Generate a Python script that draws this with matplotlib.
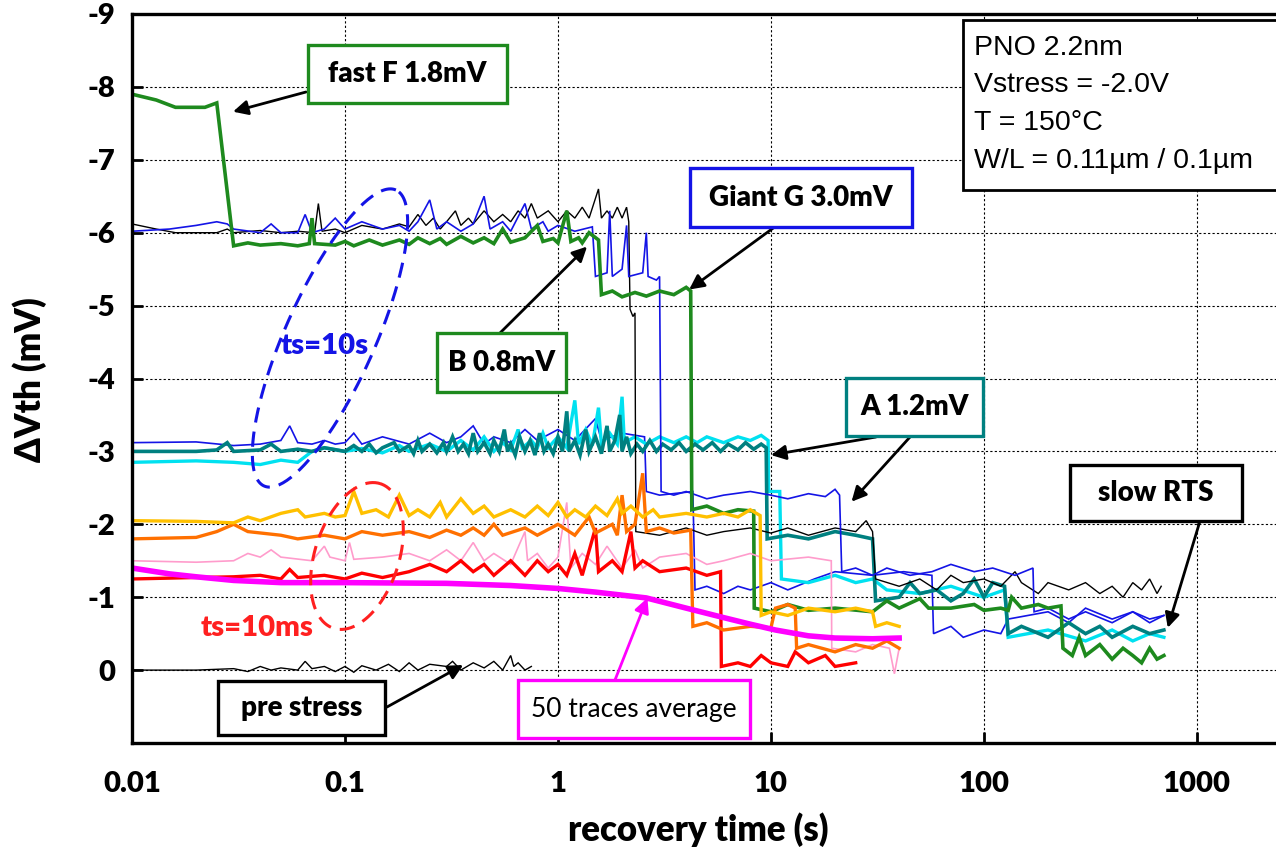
import numpy as np
import matplotlib
matplotlib.use('Agg')
import matplotlib.pyplot as plt
from matplotlib.patches import Rectangle
from matplotlib.lines import Line2D

plt.rcParams['axes.unicode_minus'] = False

# ---- traces (recovery time s, dVth mV) ----
# ts = 10 s group
green_f = [(0.01, -7.9), (0.013, -7.82), (0.016, -7.72), (0.022, -7.72), (0.025, -7.78), (0.03, -5.82),
           (0.035, -5.86), (0.04, -5.83), (0.05, -5.85), (0.06, -5.82), (0.068, -5.85), (0.07, -6.2),
           (0.072, -5.85), (0.09, -5.83), (0.1, -5.88), (0.11, -5.82), (0.13, -5.9), (0.15, -5.83),
           (0.18, -5.9), (0.2, -5.84), (0.22, -5.93), (0.25, -5.85), (0.28, -5.92), (0.3, -5.84),
           (0.35, -5.95), (0.4, -5.86), (0.45, -5.93), (0.5, -5.85), (0.55, -6.05), (0.6, -5.87),
           (0.7, -5.93), (0.8, -6.1), (0.85, -5.88), (0.95, -5.92), (1.0, -5.86), (1.1, -6.3),
           (1.15, -5.88), (1.25, -5.93), (1.3, -5.86), (1.4, -6.0), (1.55, -5.9), (1.6, -5.15),
           (1.8, -5.2), (2.0, -5.12), (2.3, -5.18), (2.6, -5.13), (3.0, -5.2), (3.5, -5.15),
           (4.0, -5.25), (4.2, -5.2), (4.25, -2.2), (5, -2.25), (6, -2.15), (7, -2.2), (8.3, -2.18),
           (8.35, -0.85), (10, -0.8), (12, -0.9), (15, -0.82), (20, -0.85), (30, -0.8), (35, -0.95),
           (40, -0.85), (50, -0.98), (55, -0.85), (70, -0.85), (90, -0.9), (100, -0.82), (120, -0.85),
           (130, -0.82), (135, -1.0), (150, -0.85), (180, -0.9), (200, -0.85), (230, -0.88),
           (235, -0.3), (260, -0.2), (280, -0.45), (300, -0.2), (350, -0.35), (400, -0.15),
           (450, -0.3), (500, -0.2), (550, -0.1), (600, -0.3), (650, -0.15), (700, -0.2)]

black_s = [(0.01, -6.12), (0.013, -6.05), (0.016, -6.0), (0.025, -6.0), (0.028, -6.05), (0.03, -6.0),
           (0.04, -6.03), (0.05, -6.0), (0.06, -6.02), (0.072, -6.0), (0.075, -6.4), (0.078, -6.02),
           (0.09, -6.05), (0.1, -6.0), (0.12, -6.1), (0.15, -6.05), (0.18, -6.12), (0.2, -6.08),
           (0.22, -6.25), (0.24, -6.1), (0.26, -6.2), (0.28, -6.05), (0.3, -6.15), (0.33, -6.3),
           (0.35, -6.1), (0.38, -6.2), (0.4, -6.12), (0.45, -6.3), (0.5, -6.15), (0.55, -6.25),
           (0.6, -6.15), (0.65, -6.3), (0.7, -6.2), (0.75, -6.4), (0.8, -6.2), (0.9, -6.3),
           (1.0, -6.15), (1.1, -6.3), (1.2, -6.2), (1.3, -6.35), (1.4, -6.2), (1.55, -6.6),
           (1.6, -6.2), (1.7, -6.3), (1.8, -6.2), (1.9, -6.35), (2.0, -6.2), (2.1, -6.35),
           (2.15, -6.15), (2.18, -4.95), (2.25, -4.85), (2.3, -4.9), (2.32, -1.9), (3, -1.85),
           (4, -1.95), (5, -1.85), (6, -1.9), (8, -1.95), (10, -1.88), (12, -1.95), (15, -1.85),
           (20, -1.95), (25, -1.9), (28, -2.05), (30, -1.9), (31, -1.25), (40, -1.15), (50, -1.25),
           (60, -1.1), (70, -1.3), (80, -1.2), (100, -1.25), (120, -1.15), (140, -1.35), (150, -1.2),
           (180, -1.05), (200, -1.2), (250, -1.1), (300, -1.2), (350, -1.05), (400, -1.15),
           (450, -1.0), (500, -1.2), (550, -1.1), (600, -1.25), (650, -1.05), (680, -1.15)]

blue_s = [(0.01, -6.02), (0.015, -6.05), (0.02, -6.1), (0.025, -6.15), (0.028, -6.12), (0.03, -6.05),
          (0.04, -6.0), (0.045, -6.12), (0.05, -6.0), (0.06, -6.0), (0.065, -6.25), (0.07, -6.0),
          (0.08, -6.05), (0.09, -6.2), (0.1, -6.05), (0.12, -6.15), (0.15, -6.05), (0.18, -6.1),
          (0.2, -6.02), (0.22, -6.15), (0.25, -6.45), (0.27, -6.05), (0.3, -6.15), (0.35, -6.02),
          (0.4, -6.12), (0.45, -6.5), (0.48, -6.05), (0.55, -6.15), (0.6, -6.02), (0.7, -6.4),
          (0.75, -6.05), (0.85, -6.15), (0.9, -6.02), (1.0, -6.1), (1.2, -6.02), (1.45, -6.08),
          (1.5, -5.4), (1.7, -5.45), (1.75, -6.3), (1.8, -5.4), (2.0, -5.5), (2.1, -6.1),
          (2.15, -5.4), (2.5, -5.45), (2.6, -6.0), (2.65, -5.4), (2.9, -5.35), (3.0, -5.4),
          (3.05, -2.45), (3.5, -2.4), (4, -2.45), (5, -2.35), (6, -2.4), (8, -2.45), (10, -2.4),
          (12, -2.35), (15, -2.42), (18, -2.38), (20, -2.48), (21, -2.4), (21.5, -1.35), (25, -1.4),
          (30, -1.3), (35, -1.4), (45, -1.3), (57, -1.35), (70, -1.45), (90, -1.35), (110, -1.4),
          (140, -1.3), (170, -1.4), (172, -0.8), (200, -0.85), (250, -0.7), (300, -0.8), (400, -0.65),
          (500, -0.8), (600, -0.7), (700, -0.75)]

blue_a = [(0.01, -3.12), (0.02, -3.13), (0.03, -3.08), (0.04, -3.1), (0.05, -3.15), (0.055, -3.35),
          (0.06, -3.12), (0.07, -3.1), (0.08, -3.15), (0.09, -3.1), (0.1, -3.12), (0.11, -3.25),
          (0.12, -3.1), (0.15, -3.2), (0.2, -3.1), (0.25, -3.25), (0.3, -3.12), (0.35, -3.2),
          (0.4, -3.35), (0.45, -3.1), (0.5, -3.2), (0.6, -3.12), (0.7, -3.3), (0.8, -3.15),
          (1.0, -3.3), (1.2, -3.15), (1.5, -3.45), (1.6, -3.15), (2.0, -3.25), (2.55, -3.2),
          (2.6, -2.45), (3, -2.4), (4.3, -2.45), (4.4, -1.1), (5, -1.15), (6, -1.05), (7, -1.15),
          (8, -1.1), (10, -1.2), (12, -1.1), (16, -1.25), (20, -1.35), (30, -1.3), (42, -1.35),
          (57, -1.3), (58, -0.5), (70, -0.6), (80, -0.45), (100, -0.55), (120, -0.5), (130, -0.7),
          (200, -0.8), (250, -0.65), (300, -0.85), (400, -0.7), (500, -0.8), (600, -0.65), (700, -0.75)]

teal_a = [(0.01, -3.0), (0.02, -3.0), (0.025, -3.02), (0.028, -3.12), (0.03, -3.0), (0.04, -3.02),
          (0.045, -3.1), (0.05, -3.0), (0.06, -3.03), (0.07, -3.0), (0.08, -3.05), (0.1, -3.0),
          (0.11, -3.08), (0.12, -3.0), (0.13, -3.1), (0.14, -2.98), (0.15, -3.05), (0.17, -3.12),
          (0.18, -3.0), (0.2, -3.08), (0.21, -2.97), (0.22, -3.15), (0.23, -3.0), (0.25, -3.1),
          (0.27, -2.98), (0.29, -3.12), (0.3, -3.0), (0.32, -3.2), (0.34, -3.0), (0.36, -3.1),
          (0.38, -2.97), (0.4, -3.25), (0.42, -3.0), (0.45, -3.12), (0.48, -2.97), (0.5, -3.15),
          (0.53, -3.0), (0.56, -3.3), (0.58, -3.0), (0.6, -3.1), (0.63, -2.95), (0.66, -3.2),
          (0.7, -3.0), (0.74, -3.15), (0.78, -2.95), (0.82, -3.25), (0.86, -3.0), (0.9, -3.1),
          (0.95, -2.97), (1.0, -3.2), (1.05, -3.0), (1.1, -3.55), (1.13, -3.0), (1.2, -3.15),
          (1.27, -2.95), (1.35, -3.3), (1.4, -3.0), (1.5, -3.2), (1.6, -2.97), (1.7, -3.35),
          (1.75, -3.0), (1.85, -3.15), (1.95, -3.5), (2.0, -3.0), (2.1, -3.2), (2.2, -2.97),
          (2.35, -3.1), (2.5, -3.0), (2.7, -3.15), (2.9, -3.0), (3.1, -3.1), (3.4, -3.02),
          (3.7, -3.12), (4, -3.0), (4.4, -3.1), (4.8, -3.02), (5.3, -3.12), (5.8, -3.0), (6.3, -3.1),
          (7, -3.02), (7.6, -3.12), (8.3, -3.03), (9, -3.1), (9.5, -3.05), (9.6, -1.8), (12, -1.85),
          (15, -1.8), (20, -1.9), (25, -1.85), (30, -1.8), (31, -0.95), (40, -1.0), (45, -1.2),
          (50, -1.05), (60, -1.1), (70, -0.95), (80, -1.05), (90, -1.25), (100, -1.0), (110, -1.2),
          (125, -1.15), (130, -0.5), (150, -0.6), (200, -0.45), (250, -0.65), (300, -0.5),
          (350, -0.6), (400, -0.45), (500, -0.6), (600, -0.5), (700, -0.55)]

cyan_a = [(0.01, -2.85), (0.02, -2.87), (0.03, -2.85), (0.04, -2.82), (0.05, -2.88), (0.06, -2.85),
          (0.07, -3.0), (0.08, -3.05), (0.1, -3.0), (0.12, -3.04), (0.15, -2.98), (0.18, -3.08),
          (0.2, -3.0), (0.25, -3.1), (0.3, -3.0), (0.35, -3.15), (0.4, -3.02), (0.45, -3.2),
          (0.5, -3.0), (0.55, -3.12), (0.6, -3.02), (0.65, -3.3), (0.68, -3.05), (0.75, -3.15),
          (0.8, -3.05), (0.85, -3.25), (0.9, -3.05), (1.0, -3.2), (1.1, -3.05), (1.2, -3.7),
          (1.25, -3.1), (1.35, -3.3), (1.45, -3.08), (1.55, -3.6), (1.6, -3.1), (1.75, -3.25),
          (1.9, -3.1), (2.0, -3.75), (2.05, -3.12), (2.3, -3.2), (2.6, -3.1), (3, -3.2), (3.5, -3.12),
          (4, -3.2), (4.5, -3.12), (5, -3.2), (6, -3.12), (7, -3.2), (8, -3.15), (9, -3.22),
          (9.7, -3.15), (9.75, -2.45), (11, -2.45), (11.2, -1.25), (15, -1.2), (20, -1.3), (25, -1.2),
          (30, -1.25), (35, -1.1), (50, -1.05), (70, -1.15), (100, -1.0), (125, -1.1), (130, -0.45),
          (200, -0.55), (300, -0.4), (400, -0.55), (500, -0.4), (600, -0.5), (700, -0.45)]

# ts = 10 ms group
yellow_m = [(0.01, -2.05), (0.02, -2.04), (0.03, -2.02), (0.035, -2.1), (0.04, -2.05), (0.05, -2.15),
            (0.06, -2.2), (0.065, -2.1), (0.08, -2.15), (0.09, -2.1), (0.1, -2.12), (0.11, -2.45),
            (0.12, -2.15), (0.14, -2.2), (0.16, -2.1), (0.18, -2.4), (0.2, -2.12), (0.22, -2.2),
            (0.25, -2.1), (0.28, -2.3), (0.3, -2.1), (0.35, -2.35), (0.4, -2.15), (0.45, -2.25),
            (0.5, -2.1), (0.6, -2.2), (0.7, -2.1), (0.8, -2.25), (0.9, -2.12), (1.0, -2.3),
            (1.1, -2.1), (1.2, -2.2), (1.35, -2.1), (1.5, -2.25), (1.7, -2.12), (1.9, -2.35),
            (2.0, -2.15), (2.2, -2.25), (2.5, -2.1), (2.8, -2.2), (3, -2.1), (4, -2.15), (5, -2.1),
            (6, -2.15), (7, -2.1), (8, -2.2), (8.9, -2.12), (9.0, -0.75), (10, -0.8), (12, -0.75),
            (15, -0.85), (20, -0.8), (25, -0.85), (30, -0.8), (31, -0.6), (35, -0.65), (40, -0.6)]

orange_m = [(0.01, -1.8), (0.02, -1.82), (0.025, -1.9), (0.03, -2.0), (0.035, -1.9), (0.05, -1.85),
            (0.06, -1.8), (0.08, -1.85), (0.1, -1.8), (0.12, -1.9), (0.15, -1.85), (0.2, -1.9),
            (0.25, -1.82), (0.3, -1.92), (0.35, -1.85), (0.4, -1.95), (0.45, -1.85), (0.5, -2.0),
            (0.55, -1.85), (0.7, -1.95), (0.8, -1.85), (1.0, -2.0), (1.2, -1.85), (1.4, -2.1),
            (1.5, -1.88), (1.8, -2.0), (1.9, -1.85), (2.0, -2.4), (2.1, -1.9), (2.3, -2.0),
            (2.5, -2.7), (2.6, -1.9), (3, -1.95), (3.5, -1.88), (4.2, -1.92), (4.3, -0.6), (5, -0.65),
            (6, -0.55), (8, -0.6), (10, -0.58), (10.5, -0.85), (12, -0.9), (13, -0.85), (13.2, -0.3),
            (15, -0.35), (20, -0.25), (25, -0.35), (30, -0.3), (35, -0.4), (40, -0.3)]

pink_m = [(0.01, -1.5), (0.02, -1.48), (0.03, -1.5), (0.035, -1.6), (0.04, -1.55), (0.045, -1.65),
          (0.05, -1.55), (0.07, -1.5), (0.08, -1.7), (0.085, -1.55), (0.1, -1.5), (0.105, -1.75),
          (0.11, -1.52), (0.15, -1.55), (0.2, -1.6), (0.25, -1.5), (0.3, -1.65), (0.35, -1.5),
          (0.4, -1.75), (0.45, -1.5), (0.5, -1.6), (0.6, -1.45), (0.7, -1.9), (0.72, -1.5),
          (0.8, -1.6), (0.9, -1.4), (1.0, -1.55), (1.1, -2.3), (1.15, -1.4), (1.3, -1.6),
          (1.5, -1.45), (1.7, -1.7), (2, -1.4), (2.3, -1.65), (2.5, -1.4), (3, -1.55), (4, -1.6),
          (5, -1.45), (6, -1.5), (8, -1.6), (10, -1.5), (15, -1.55), (19.2, -1.5), (19.3, -0.3),
          (25, -0.25), (30, -0.35), (36, -0.3), (38, 0.05), (40, -0.3)]

red_m = [(0.01, -1.25), (0.02, -1.27), (0.03, -1.28), (0.04, -1.3), (0.05, -1.25), (0.055, -1.38),
         (0.06, -1.27), (0.08, -1.3), (0.1, -1.25), (0.12, -1.33), (0.15, -1.27), (0.2, -1.35),
         (0.25, -1.45), (0.3, -1.35), (0.35, -1.5), (0.4, -1.35), (0.45, -1.45), (0.5, -1.3),
         (0.6, -1.5), (0.7, -1.3), (0.8, -1.5), (0.9, -1.35), (1.0, -1.45), (1.1, -1.3), (1.2, -1.6),
         (1.3, -1.3), (1.5, -1.95), (1.55, -1.35), (1.8, -1.5), (2, -1.35), (2.2, -1.9), (2.3, -1.4),
         (2.5, -1.5), (3, -1.35), (4, -1.4), (5, -1.3), (5.8, -1.35), (5.85, -0.05), (7, -0.1),
         (8, -0.05), (9, -0.2), (10, -0.1), (12, -0.05), (13, -0.25), (15, -0.1), (18, -0.2),
         (20, -0.05), (25, -0.1)]

average_50 = [(0.01, -1.4), (0.015, -1.32), (0.02, -1.28), (0.03, -1.23), (0.05, -1.2), (0.1, -1.2),
              (0.3, -1.19), (0.6, -1.16), (1.0, -1.12), (1.5, -1.07), (2.6, -0.99), (4, -0.85),
              (6, -0.72), (8, -0.63), (10.5, -0.55), (15, -0.47), (20, -0.44), (30, -0.43), (40, -0.44)]

pre_stress = [(0.01, 0.0), (0.02, 0.0), (0.03, -0.02), (0.035, 0.02), (0.04, -0.05), (0.045, 0.0),
              (0.05, -0.03), (0.06, 0.0), (0.065, -0.12), (0.07, -0.02), (0.08, -0.05), (0.09, 0.02),
              (0.1, -0.05), (0.11, 0.03), (0.12, -0.06), (0.14, 0.0), (0.16, -0.08), (0.18, 0.02),
              (0.2, -0.1), (0.22, 0.0), (0.25, -0.08), (0.3, -0.05), (0.32, -0.12), (0.35, 0.0),
              (0.4, -0.1), (0.45, -0.03), (0.5, -0.12), (0.55, 0.0), (0.6, -0.2), (0.62, -0.05),
              (0.65, -0.1), (0.7, 0.0), (0.75, -0.05)]

# (trace, colour, linewidth) in drawing order
traces = [
    (blue_a, '#1414e6', 1.2), (cyan_a, '#00e1f0', 2.4), (teal_a, '#008080', 2.6),
    (black_s, 'black', 1.0), (blue_s, '#1414e6', 1.2), (green_f, '#1e8a1e', 2.6),
    (pink_m, '#ff9ccc', 1.2), (red_m, '#ff0000', 2.4), (orange_m, '#ff7000', 2.4),
    (yellow_m, '#ffc000', 2.4), (average_50, '#ff00ff', 4.0), (pre_stress, 'black', 1.0),
]

W, H = 1276, 850
fig = plt.figure(figsize=(W / 100, H / 100), dpi=100)
ax = fig.add_axes([132 / W, 1 - 743 / H, 1 - 132 / W + 0.01, (743 - 14) / H])

for tr, col, lw in traces:
    t, v = zip(*tr)
    ax.plot(t, v, color=col, lw=lw, solid_joinstyle='miter')

ax.set_xscale('log')
ax.set_xlim(0.01, 2700)
ax.set_ylim(1, -9)
ax.set_yticks(range(-9, 1))
ax.set_xticks([0.01, 0.1, 1, 10, 100, 1000])
ax.set_xticklabels(['0.01', '0.1', '1', '10', '100', '1000'])
ax.minorticks_off()
ax.grid(True, color='black', lw=0.8, linestyle=(0, (2, 2)))
ax.tick_params(direction='in', length=8, width=2, labelsize=21, pad=12)
ax.tick_params(axis='x', pad=20)
lab_font = ['Lato', 'DejaVu Sans']
for lb in ax.get_xticklabels() + ax.get_yticklabels():
    lb.set_family(lab_font)
    lb.set_fontweight('heavy')
for s in ['left', 'bottom', 'top']:
    ax.spines[s].set_linewidth(2.4)
ax.spines['right'].set_visible(False)

fig.text(698 / W, 1 - 830 / H, 'recovery time (s)', ha='center', va='center',
         fontsize=25, fontweight='heavy', family=lab_font)
fig.text(30 / W, 1 - 380 / H, 'ΔVth (mV)', ha='center', va='center', rotation=90,
         fontsize=25, fontweight='heavy', family=lab_font)


def fx(px):
    return px / W


def fy(py):
    return 1 - py / H


def box(x0, y0, x1, y1, edge, lw=2.4):
    r = Rectangle((fx(x0), fy(y1)), (x1 - x0) / W, (y1 - y0) / H, transform=fig.transFigure,
                  facecolor='white', edgecolor=edge, lw=lw, zorder=5)
    fig.add_artist(r)


def arrow(p0, tip, col='black'):
    ax.annotate('', xy=tip, xycoords='data', xytext=(fx(p0[0]), fy(p0[1])),
                textcoords='figure fraction',
                arrowprops=dict(arrowstyle='-|>', color=col, lw=2.0, mutation_scale=22,
                                shrinkA=0, shrinkB=0))


# labelled boxes: text, box (px), edge colour
labels = [
    ('fast F 1.8mV', (308, 45, 507, 103), '#1e8a1e'),
    ('Giant G 3.0mV', (690, 168, 912, 227), '#1414e6'),
    ('B 0.8mV', (437, 333, 566, 392), '#1e8a1e'),
    ('A 1.2mV', (846, 378, 983, 436), '#008080'),
    ('slow RTS', (1070, 465, 1242, 521), 'black'),
    ('pre stress', (218, 681, 385, 735), 'black'),
]
for txt, (x0, y0, x1, y1), ec in labels:
    box(x0, y0, x1, y1, ec)
    fig.text(fx((x0 + x1) / 2), fy((y0 + y1) / 2), txt, ha='center', va='center',
             fontsize=20, fontweight='heavy', family=lab_font, zorder=6)

box(518, 680, 750, 738, '#ff00ff')
fig.text(fx(634), fy(709), '50 traces average', ha='center', va='center', fontsize=19,
         family=lab_font, zorder=6)

arrow((306, 92), (0.0298, -7.66))
arrow((776, 226), (4.13, -5.22))
arrow((500, 333), (1.37, -5.81))
arrow((876, 437), (10.0, -2.95))
arrow((910, 437), (23.9, -2.31))
arrow((1200, 521), (730, -0.58))
arrow((387, 707), (0.359, -0.07))
arrow((615, 680), (2.63, -0.99), col='#ff00ff')

# parameter box
box(963, 20, 1300, 190, 'black', lw=2.0)
params = ['PNO 2.2nm', 'Vstress = -2.0V', 'T = 150°C', 'W/L = 0.11µm / 0.1µm']
for i, p in enumerate(params):
    fig.text(fx(974), fy(48 + 37.5 * i), p, ha='left', va='center', fontsize=20.5,
             family=['Liberation Sans', 'DejaVu Sans'], zorder=6)


# dashed ellipses marking the two stress-time groups
def ellipse(cx, cy, a, b, ang, col):
    th = np.linspace(0, 2 * np.pi, 200)
    c, s = np.cos(np.radians(ang)), np.sin(np.radians(ang))
    xs = cx + a * np.cos(th) * c - b * np.sin(th) * s
    ys = cy + a * np.cos(th) * s + b * np.sin(th) * c
    fig.add_artist(Line2D(xs / W, ys / H, transform=fig.transFigure, color=col, lw=2.2,
                          dashes=(5, 3), zorder=4))


ellipse(330, H - 338, 162, 45, 66, '#1414e6')
ellipse(357, H - 556, 76, 42, 72, '#ff2020')
fig.text(fx(325), fy(346), 'ts=10s', ha='center', va='center', fontsize=21, fontweight='heavy',
         color='#1414e6', family=lab_font)
fig.text(fx(257), fy(628), 'ts=10ms', ha='center', va='center', fontsize=21, fontweight='heavy',
         color='#ff2020', family=lab_font)

fig.savefig('out.png', dpi=100)
